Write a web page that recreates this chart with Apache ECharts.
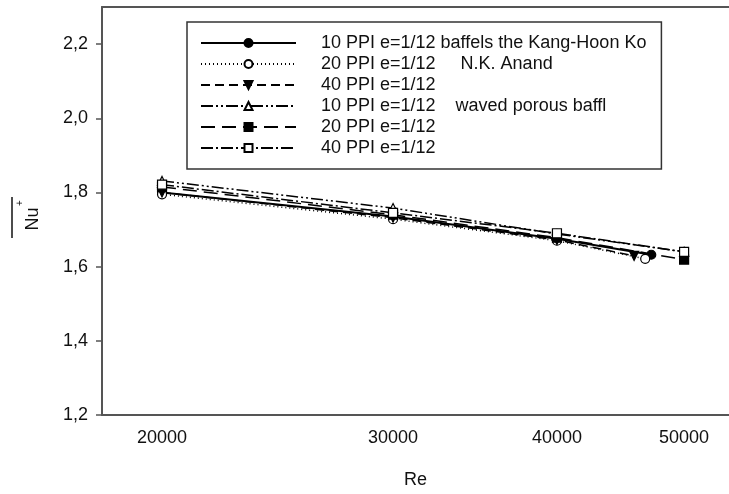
<!DOCTYPE html>
<html>
<head>
<meta charset="utf-8">
<script src="https://cdn.jsdelivr.net/npm/echarts@6/dist/echarts.min.js"></script>
<style>
  html, body { margin: 0; padding: 0; background: #fff; }
  #chart { width: 729px; height: 494px; }
</style>
</head>
<body>
<div id="chart"></div>
<script>
// tick labels
const reTicks = [20000, 30000, 40000, 50000];
const nuTicks = [1.2, 1.4, 1.6, 1.8, 2.0, 2.2];

// legend names (trailing space keeps the two "40 PPI" rows apart)
const seriesNames = [
  "10 PPI e=1/12 baffels the Kang-Hoon Ko",
  "20 PPI e=1/12     N.K. Anand",
  "40 PPI e=1/12",
  "10 PPI e=1/12    waved porous baffl",
  "20 PPI e=1/12",
  "40 PPI e=1/12 "
];

// values
const koRe = [20000, 30000, 40000, 47200];
const koNu = [1.800, 1.735, 1.675, 1.632];
const anandRe = [20000, 30000, 40000, 46700];
const anandNu = [1.795, 1.728, 1.670, 1.621];
const ppi40Re = [20000, 30000, 40000, 45800];
const ppi40Nu = [1.800, 1.732, 1.672, 1.629];
const waved10Re = [20000, 30000, 40000, 50000];
const waved10Nu = [1.831, 1.758, 1.688, 1.640];
const waved20Re = [20000, 30000, 40000, 50000];
const waved20Nu = [1.815, 1.740, 1.678, 1.619];
const waved40Re = [20000, 30000, 40000, 50000];
const waved40Nu = [1.821, 1.745, 1.690, 1.640];

const seriesData = [
  [koRe, koNu], [anandRe, anandNu], [ppi40Re, ppi40Nu],
  [waved10Re, waved10Nu], [waved20Re, waved20Nu], [waved40Re, waved40Nu]
];

// look of each series: line dash, symbol, filled or open
const looks = [
  { dash: "solid", symbol: "circle", fill: "#000", rotate: 0, width: 2 },
  { dash: [1, 3], symbol: "circle", fill: "#fff", rotate: 0, width: 1.5 },
  { dash: [9, 5], symbol: "triangle", fill: "#000", rotate: 180, width: 1.5 },
  { dash: [12, 3, 2, 3, 2, 3], symbol: "triangle", fill: "#fff", rotate: 0, width: 1.5 },
  { dash: [14, 7], symbol: "rect", fill: "#000", rotate: 0, width: 1.5 },
  { dash: [12, 3, 2, 3], symbol: "rect", fill: "#fff", rotate: 0, width: 1.5 }
];

const chart = echarts.init(document.getElementById("chart"));
const font = "Liberation Sans, Arial, sans-serif";

const series = seriesNames.map((name, i) => ({
  name: name,
  type: "line",
  data: seriesData[i][0].map((re, j) => [re, seriesData[i][1][j]]),
  symbol: looks[i].symbol,
  symbolSize: 9,
  symbolRotate: looks[i].rotate,
  showAllSymbol: true,
  lineStyle: { color: "#000", width: looks[i].width, type: looks[i].dash },
  itemStyle: { color: looks[i].fill, borderColor: "#000", borderWidth: 1.2 },
  emphasis: { disabled: true },
  z: 3
}));

const options = {
  animation: false,
  backgroundColor: "#fff",
  grid: { left: 102, right: 0, top: 7, bottom: 67 },
  legend: {
    orient: "vertical",
    left: 187,
    top: 22,
    padding: [12, 15, 12, 13],
    itemWidth: 95,
    itemHeight: 10,
    itemGap: 3,
    backgroundColor: "#fff",
    borderColor: "#333",
    borderWidth: 1.5,
    textStyle: { fontFamily: font, fontSize: 18, color: "#111", lineHeight: 18, padding: [0, 0, 0, 20] },
    data: seriesNames
  },
  xAxis: [
    {
      type: "log",
      min: 18000,
      max: 54100,
      name: "Re",
      nameLocation: "middle",
      nameGap: 56,
      nameTextStyle: { fontFamily: font, fontSize: 18, color: "#111" },
      axisLine: { lineStyle: { color: "#555", width: 2 } },
      axisTick: { show: false },
      splitLine: { show: false },
      minorTick: { show: false },
      axisLabel: {
        customValues: reTicks,
        fontFamily: font, fontSize: 18, color: "#111", margin: 14,
        formatter: (v) => String(Math.round(v))
      }
    },
    {
      type: "log",
      position: "top",
      min: 18000,
      max: 54100,
      axisLine: { show: true, lineStyle: { color: "#555", width: 2 } },
      axisTick: { show: false },
      axisLabel: { show: false },
      splitLine: { show: false }
    }
  ],
  yAxis: {
    type: "value",
    min: 1.2,
    max: 2.3,
    axisLine: { show: true, lineStyle: { color: "#555", width: 2 } },
    axisTick: { show: true, customValues: nuTicks, length: 6, lineStyle: { color: "#555", width: 1.5 } },
    splitLine: { show: false },
    axisLabel: {
      customValues: nuTicks,
      fontFamily: font, fontSize: 18, color: "#111", margin: 14,
      formatter: (v) => v.toFixed(1).replace(".", ",")
    }
  },
  graphic: [
    {
      type: "group",
      x: 33,
      y: 219,
      rotation: Math.PI / 2,
      children: [
        { type: "text", x: 0, y: 0, style: { text: "Nu", font: "18px " + font, fill: "#111", align: "center", verticalAlign: "middle" } },
        { type: "text", x: 16, y: -13, style: { text: "+", font: "10px " + font, fill: "#111", align: "center", verticalAlign: "middle" } },
        { type: "line", shape: { x1: -19, y1: -21, x2: 22, y2: -21 }, style: { stroke: "#111", lineWidth: 1.5 } }
      ]
    }
  ],
  series: series
};

chart.setOption(options);
</script>
</body>
</html>
